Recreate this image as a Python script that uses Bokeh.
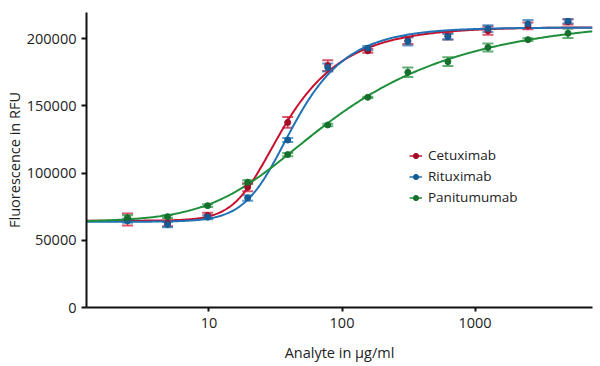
import numpy as np
from bokeh.plotting import figure
from bokeh.models import (ColumnDataSource, Whisker, TeeHead, Legend, LegendItem,
                          FixedTicker, NumeralTickFormatter)
from bokeh.embed import file_html
from bokeh.resources import INLINE

# ---- data ----
conc = [2.44, 4.88, 9.77, 19.53, 39.06, 78.13, 156.25, 312.5, 625, 1250, 2500, 5000]
cetuximab = [65500, 62500, 68500, 89500, 137700, 180000, 191000, 198500, 202000, 206000, 209500, 212500]
cetuximab_err = [4500, 2000, 2000, 3000, 4000, 4000, 1500, 2500, 2500, 3000, 2500, 2000]
rituximab = [64500, 61700, 67200, 81500, 124600, 178600, 193000, 198000, 201500, 207500, 211000, 213000]
rituximab_err = [1500, 2000, 1500, 2000, 1500, 3000, 1500, 3000, 2000, 2500, 3000, 1500]
panitumumab = [66700, 67600, 75800, 93200, 113800, 135800, 156400, 175000, 182900, 193500, 199300, 204000]
panitumumab_err = [2000, 1000, 1000, 1500, 1200, 1000, 500, 3500, 3300, 3000, 1000, 3500]

series_names = ["Cetuximab", "Rituximab", "Panitumumab"]
x_ticks = [10, 100, 1000]
y_ticks = [0, 50000, 100000, 150000, 200000]

X_MIN, X_MAX = 1.2, 7640
Y_MIN, Y_MAX = 0, 219500

FONT = "Open Sans"


def fit_logistic(x, y):
    """Least-squares 5-parameter logistic fit (grid over shape, linear for bottom/span)."""
    x = np.asarray(x, float)
    y = np.asarray(y, float)
    cs = np.logspace(np.log10(3), np.log10(3000), 90)
    hs = np.linspace(0.5, 5, 46)
    ss = np.logspace(-1, 0.6, 33)
    C, H, S = np.meshgrid(cs, hs, ss, indexing="ij")
    with np.errstate(all="ignore"):
        f = 1 - (1 + (x / C[..., None]) ** H[..., None]) ** (-S[..., None])
        fm = f.mean(-1)
        ym = y.mean()
        D = ((f - fm[..., None]) * (y - ym)).sum(-1) / ((f - fm[..., None]) ** 2).sum(-1)
        B = ym - D * fm
        sse = ((B[..., None] + D[..., None] * f - y) ** 2).sum(-1)
    sse = np.where(np.isfinite(sse), sse, np.inf)
    i = np.unravel_index(np.argmin(sse), sse.shape)
    return B[i], D[i], C[i], H[i], S[i]


def curve(params, xs):
    B, D, c, h, s = params
    return B + D * (1 - (1 + (xs / c) ** h) ** (-s))


p = figure(width=600, height=366, x_axis_type="log",
           x_range=(X_MIN, X_MAX), y_range=(Y_MIN, Y_MAX),
           output_backend="svg", toolbar_location=None,
           min_border_left=86, min_border_right=8, min_border_top=12, min_border_bottom=59)
p.outline_line_color = None
p.grid.visible = False
p.background_fill_color = "white"

colors = ["#c8102e", "#1f72b5", "#1f8f3b"]
dark = ["#a30c25", "#165c95", "#16702d"]
vals = [cetuximab, rituximab, panitumumab]
errs = [cetuximab_err, rituximab_err, panitumumab_err]

xs = np.logspace(np.log10(X_MIN), np.log10(X_MAX), 400)
for v, col in zip(vals, colors):
    params = fit_logistic(conc, v)
    p.line(xs, curve(params, xs), line_color=col, line_width=2)

items = []
for name, v, e, col, dk in zip(series_names, vals, errs, colors, dark):
    v = np.asarray(v, float)
    e = np.asarray(e, float)
    src = ColumnDataSource(dict(x=conc, y=v, lo=v - e, hi=v + e))
    w = Whisker(base="x", upper="hi", lower="lo", source=src, dimension="height",
                line_color=col, line_alpha=0.7, line_width=1.5,
                upper_head=TeeHead(size=11, line_color=col, line_alpha=0.7, line_width=2),
                lower_head=TeeHead(size=11, line_color=col, line_alpha=0.7, line_width=2))
    p.add_layout(w)
    p.scatter("x", "y", source=src, size=6, fill_color=dk, line_color=dk)
    # legend-only renderers (one point far outside the visible range)
    leg_src = ColumnDataSource(dict(x=[X_MIN], y=[-1e7]))
    dummy_line = p.line("x", "y", source=leg_src, line_color=col, line_width=1.5)
    dummy_pt = p.scatter("x", "y", source=leg_src, size=5, fill_color=dk, line_color=dk)
    items.append(LegendItem(label=name, renderers=[dummy_line, dummy_pt]))

legend = Legend(items=items, location=(323, 101), border_line_color=None,
                background_fill_alpha=0, padding=0, margin=0, spacing=3,
                glyph_width=13, glyph_height=17, label_height=17, label_standoff=6,
                label_text_font=FONT, label_text_font_size="13.5px",
                label_text_color="#222222")
p.add_layout(legend)

# axes
for ax in (p.xaxis[0], p.yaxis[0]):
    ax.axis_line_width = 2
    ax.axis_line_color = "#111111"
    ax.major_tick_line_width = 2
    ax.major_tick_line_color = "#111111"
    ax.minor_tick_line_color = None
    ax.major_tick_in = 0
    ax.major_label_text_font = FONT
    ax.major_label_text_font_size = "14.5px"
    ax.major_label_text_color = "#222222"
    ax.axis_label_text_font = FONT
    ax.axis_label_text_font_size = "14.5px"
    ax.axis_label_text_font_style = "normal"
    ax.axis_label_text_color = "#222222"

p.xaxis.ticker = FixedTicker(ticks=x_ticks)
p.xaxis.formatter = NumeralTickFormatter(format="0")
p.xaxis.major_tick_out = 4
p.xaxis.major_label_standoff = 6
p.xaxis.axis_label = "Analyte in µg/ml"
p.xaxis.axis_label_standoff = 12

p.yaxis.ticker = FixedTicker(ticks=y_ticks)
p.yaxis.formatter = NumeralTickFormatter(format="0")
p.yaxis.major_tick_out = 5
p.yaxis.major_label_standoff = 5
p.yaxis.axis_label = "Fluorescence in RFU"
p.yaxis.axis_label_standoff = 0

open("out.html", "w").write(file_html(p, INLINE))
